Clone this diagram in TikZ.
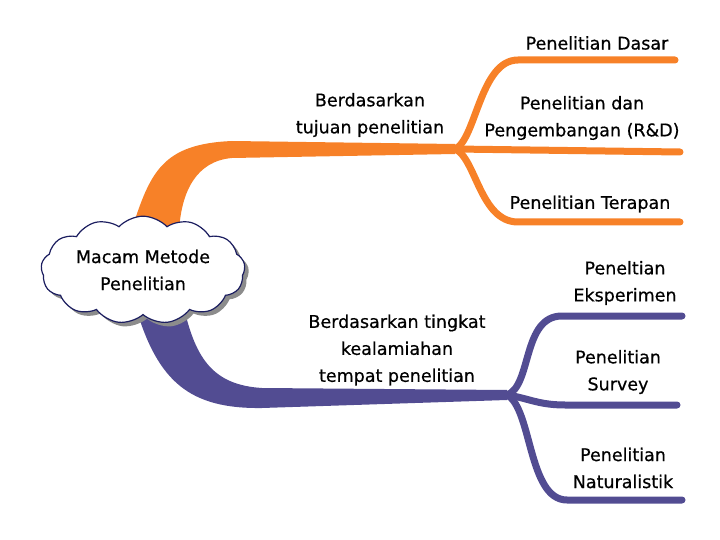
\documentclass[tikz,border=0pt]{standalone}
\usepackage{fontspec}
\setmainfont{DejaVu Sans}[FakeBold=0.6]
\usetikzlibrary{shapes.symbols, shadows}
\definecolor{morange}{RGB}{247,129,40}
\definecolor{mpurple}{RGB}{82,76,146}
\definecolor{mnavy}{RGB}{28,30,96}

\begin{document}
\begin{tikzpicture}[
  x=1pt, y=-1pt,
  font=\fontsize{17.5}{27}\selectfont,
  topic/.style={cloud, cloud puffs=13, cloud puff arc=95, aspect=2.1,
    draw=mnavy, line width=1.2pt, fill=white, minimum width=204pt, minimum height=104pt,
    align=center, inner sep=0pt,
    drop shadow={fill=black!45, shadow xshift=4pt, shadow yshift=-4pt, opacity=1}},
  lab/.style={align=center, inner sep=0pt},
  twig/.style={line width=7pt, line cap=round},
]
\useasboundingbox (0,0) rectangle (720,540);

% ---- junctions and branch ends
\coordinate (jo) at (455,149);
\coordinate (jp) at (507,395);
\coordinate (o1) at (675,60);
\coordinate (o2) at (680,152);
\coordinate (o3) at (680,222);
\coordinate (p1) at (682,316);
\coordinate (p2) at (677,405);
\coordinate (p3) at (682,500);

% ---- trunks (tapered)
\fill[morange] (131,232) .. controls (150,172) and (162,144) .. (232,141)
  -- (455,144) -- (455,154) -- (232,158)
  .. controls (196,161) and (181,192) .. (179,232) -- cycle;
\fill[mpurple] (136,308) .. controls (158,382) and (190,409) .. (262,408)
  -- (507,400) -- (507,390) -- (262,388)
  .. controls (214,385) and (196,360) .. (184,308) -- cycle;

% ---- twigs
\draw[twig, morange] (jo) .. controls (476,140) and (480,60) .. (518,60) -- (o1);
\draw[twig, morange] (jo) -- (o2);
\draw[twig, morange] (jo) .. controls (476,158) and (480,222) .. (518,222) -- (o3);
\draw[twig, mpurple] (jp) .. controls (532,386) and (522,316) .. (562,316) -- (p1);
\draw[twig, mpurple] (jp) .. controls (528,398) and (538,405) .. (565,405) -- (p2);
\draw[twig, mpurple] (jp) .. controls (532,408) and (528,500) .. (567,500) -- (p3);

% ---- central topic
\node[topic] (root) at (143,270) {Macam Metode\\Penelitian};

% ---- labels
\node[lab] (tujuan) at (370,115) {Berdasarkan\\tujuan penelitian};
\node[lab] (alami)  at (397,350) {Berdasarkan tingkat\\kealamiahan\\tempat penelitian};
\node[lab] (dasar)  at (597,43)  {Penelitian Dasar};
\node[lab] (rnd)    at (582,118) {Penelitian dan\\Pengembangan (R\&D)};
\node[lab] (terap)  at (590,204) {Penelitian Terapan};
\node[lab] (eksp)   at (625,283) {Peneltian\\Eksperimen};
\node[lab] (survey) at (618,372) {Penelitian\\Survey};
\node[lab] (natur)  at (623,468) {Penelitian\\Naturalistik};

\end{tikzpicture}
\end{document}
